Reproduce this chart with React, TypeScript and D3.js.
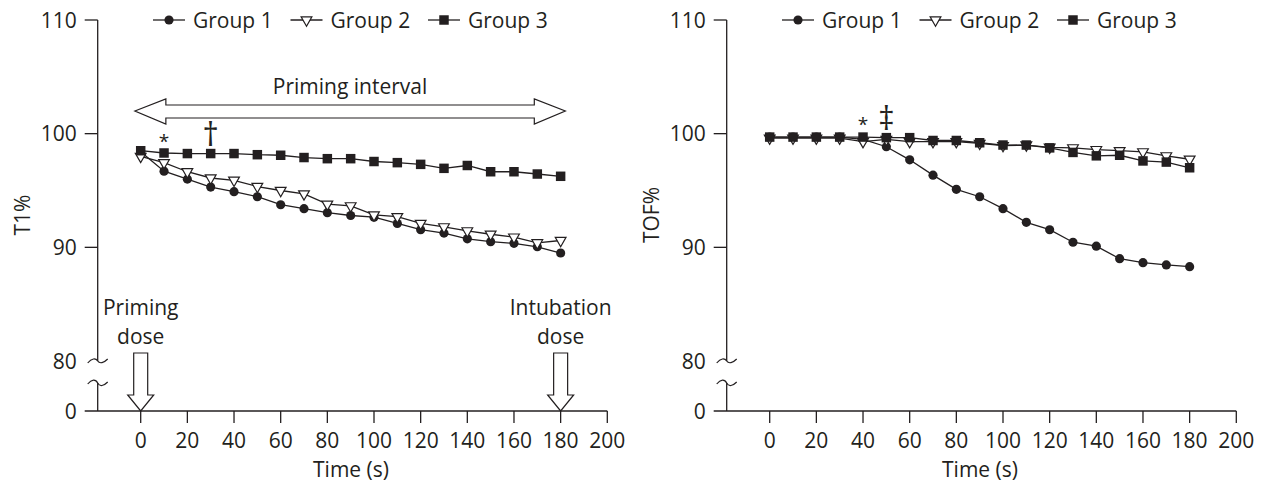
import React from 'react';
import * as d3 from 'd3';

// time points (s)
const times = [0, 10, 20, 30, 40, 50, 60, 70, 80, 90, 100, 110, 120, 130, 140, 150, 160, 170, 180];

// left panel: T1%
const t1Group1 = [98.4, 96.7, 96.0, 95.3, 94.9, 94.45, 93.75, 93.4, 93.05, 92.8, 92.65, 92.1, 91.55, 91.25, 90.75, 90.5, 90.35, 90.05, 89.5];
const t1Group2 = [98.0, 97.45, 96.65, 96.1, 95.9, 95.35, 95.0, 94.7, 93.8, 93.65, 92.85, 92.7, 92.1, 91.8, 91.45, 91.15, 90.9, 90.4, 90.6];
const t1Group3 = [98.5, 98.3, 98.25, 98.25, 98.25, 98.15, 98.1, 97.9, 97.8, 97.8, 97.55, 97.45, 97.3, 96.95, 97.2, 96.65, 96.65, 96.45, 96.25];

// right panel: TOF%
const tofGroup1 = [99.7, 99.7, 99.7, 99.7, 99.5, 98.85, 97.7, 96.35, 95.1, 94.45, 93.4, 92.2, 91.55, 90.45, 90.1, 89.0, 88.65, 88.45, 88.3];
const tofGroup2 = [99.6, 99.6, 99.6, 99.6, 99.3, 99.5, 99.3, 99.3, 99.3, 99.15, 98.95, 99.0, 98.8, 98.75, 98.6, 98.5, 98.4, 98.05, 97.75];
const tofGroup3 = [99.7, 99.7, 99.7, 99.7, 99.7, 99.65, 99.65, 99.4, 99.4, 99.2, 99.0, 99.0, 98.75, 98.35, 98.05, 98.1, 97.6, 97.5, 97.0];

const groupNames = ['Group 1', 'Group 2', 'Group 3'];
const xTicks = [0, 20, 40, 60, 80, 100, 120, 140, 160, 180, 200];
const yTicks = [110, 100, 90];

const W = 1263;
const H = 483;
const FONT = '"Open Sans", "DejaVu Sans", sans-serif';
const INK = '#231f20';
const PANEL_SHIFT = 629;

const circleSym = d3.symbol().type(d3.symbolCircle).size(66)();
const squareSym = d3.symbol().type(d3.symbolSquare).size(90)();
const triSym = d3.symbol().type(d3.symbolTriangle).size(50)();

function Marker({ kind, x, y }: { kind: number; x: number; y: number }) {
  if (kind === 0) return <path d={circleSym || ''} transform={`translate(${x},${y})`} fill={INK} />;
  if (kind === 1)
    return (
      <path d={triSym || ''} transform={`translate(${x},${y}) rotate(180)`} fill="#fff" stroke={INK} strokeWidth={1.2} />
    );
  return <path d={squareSym || ''} transform={`translate(${x},${y})`} fill={INK} />;
}

function Panel({ dx, series, yLabel, marks, doses }: any) {
  const x = d3.scaleLinear().domain([0, 200]).range([140.7 + dx, 607.3 + dx]);
  const y = d3.scaleLinear().domain([80, 110]).range([361, 20]);
  const yZero = 411;
  const axisX = 97.7 + dx;
  const line = d3
    .line<number>()
    .x((_, i) => x(times[i]))
    .y((d) => y(d));

  // little axis-break curls
  const squiggle = (yy: number, up: boolean) =>
    up
      ? `M${axisX - 10},${yy + 1} C${axisX - 6},${yy - 4} ${axisX - 2},${yy - 4} ${axisX},${yy} C${axisX + 2},${yy + 4} ${axisX + 6},${yy + 3} ${axisX + 10},${yy - 1}`
      : `M${axisX - 10},${yy + 2} C${axisX - 6},${yy - 3} ${axisX - 2},${yy - 3} ${axisX},${yy} C${axisX + 2},${yy + 3} ${axisX + 6},${yy + 2} ${axisX + 10},${yy - 2}`;

  const legendX = (i: number) => 153 + dx + i * 137.5;

  return (
    <g fontFamily={FONT} fill={INK}>
      {/* y axis */}
      <line x1={axisX} x2={axisX} y1={y(110)} y2={y(80)} stroke={INK} strokeWidth={1.3} />
      <line x1={axisX} x2={axisX} y1={383} y2={yZero} stroke={INK} strokeWidth={1.3} />
      <path d={squiggle(y(80), false)} fill="none" stroke={INK} strokeWidth={1.2} />
      <path d={squiggle(383, true)} fill="none" stroke={INK} strokeWidth={1.2} />
      {yTicks.map((t) => (
        <g key={t}>
          <line x1={axisX - 13} x2={axisX} y1={y(t)} y2={y(t)} stroke={INK} strokeWidth={1.3} />
          <text x={axisX - 21} y={y(t) + 7.5} textAnchor="end" fontSize={21}>
            {t}
          </text>
        </g>
      ))}
      <text x={axisX - 21} y={y(80) + 7.5} textAnchor="end" fontSize={21}>
        80
      </text>
      <text x={axisX - 21} y={yZero + 7.5} textAnchor="end" fontSize={21}>
        0
      </text>
      <text transform={`translate(${23 + dx},215) rotate(-90)`} textAnchor="middle" fontSize={21} dy={7}>
        {yLabel}
      </text>

      {/* x axis */}
      <line x1={axisX - 13} x2={x(200)} y1={yZero} y2={yZero} stroke={INK} strokeWidth={1.3} />
      {xTicks.map((t) => (
        <g key={t}>
          <line x1={x(t)} x2={x(t)} y1={yZero} y2={yZero + 12} stroke={INK} strokeWidth={1.3} />
          <text x={x(t)} y={448} textAnchor="middle" fontSize={21}>
            {t}
          </text>
        </g>
      ))}
      <text x={351 + dx} y={477} textAnchor="middle" fontSize={21}>
        Time (s)
      </text>

      {/* series */}
      {series.map((vals: number[], k: number) => (
        <g key={k}>
          <path d={line(vals) || ''} fill="none" stroke={INK} strokeWidth={1.3} />
          {vals.map((v, i) => (
            <Marker key={i} kind={k} x={x(times[i])} y={y(v)} />
          ))}
        </g>
      ))}

      {/* significance marks */}
      {marks.map((m: any, i: number) => (
        <text key={i} x={x(m.t)} y={m.y} textAnchor="middle" fontSize={m.size}>
          {m.s}
        </text>
      ))}

      {/* legend */}
      {groupNames.map((g, i) => (
        <g key={g}>
          <line x1={legendX(i)} x2={legendX(i) + 32} y1={20} y2={20} stroke={INK} strokeWidth={1.3} />
          <Marker kind={i} x={legendX(i) + 16} y={20} />
          <text x={legendX(i) + 40} y={27.5} fontSize={21}>
            {g}
          </text>
        </g>
      ))}

      {doses && (
        <g>
          <path
            d={`M${x(-2.5)},111 L${x(-2.5) + 31},99 L${x(-2.5) + 31},105 L${x(182) - 31},105 L${x(182) - 31},99 L${x(182)},111 L${x(182) - 31},124 L${x(182) - 31},118 L${x(-2.5) + 31},118 L${x(-2.5) + 31},124 Z`}
            fill="#fff"
            stroke={INK}
            strokeWidth={1.2}
          />
          <text x={350} y={94} textAnchor="middle" fontSize={21}>
            Priming interval
          </text>
          {[0, 180].map((t) => (
            <path
              key={t}
              d={`M${x(t) - 7},353 L${x(t) + 7},353 L${x(t) + 7},395 L${x(t) + 13},395 L${x(t)},411 L${x(t) - 13},395 L${x(t) - 7},395 Z`}
              fill="#fff"
              stroke={INK}
              strokeWidth={1.2}
            />
          ))}
          <text x={x(0)} y={315} textAnchor="middle" fontSize={21}>
            Priming
          </text>
          <text x={x(0)} y={344} textAnchor="middle" fontSize={21}>
            dose
          </text>
          <text x={x(180)} y={315} textAnchor="middle" fontSize={21}>
            Intubation
          </text>
          <text x={x(180)} y={344} textAnchor="middle" fontSize={21}>
            dose
          </text>
        </g>
      )}
    </g>
  );
}

export default function App() {
  return (
    <svg width={W} height={H} style={{ position: 'absolute', left: 0, top: 0, background: '#fff' }}>
      <rect width={W} height={H} fill="#fff" />
      <Panel
        dx={0}
        series={[t1Group1, t1Group2, t1Group3]}
        yLabel="T1%"
        doses
        marks={[
          { t: 10, s: '*', y: 148, size: 19 },
          { t: 30, s: '†', y: 146, size: 32 },
        ]}
      />
      <Panel
        dx={PANEL_SHIFT}
        series={[tofGroup1, tofGroup2, tofGroup3]}
        yLabel="TOF%"
        doses={false}
        marks={[
          { t: 40, s: '*', y: 131, size: 19 },
          { t: 50, s: '‡', y: 130, size: 32 },
        ]}
      />
    </svg>
  );
}
